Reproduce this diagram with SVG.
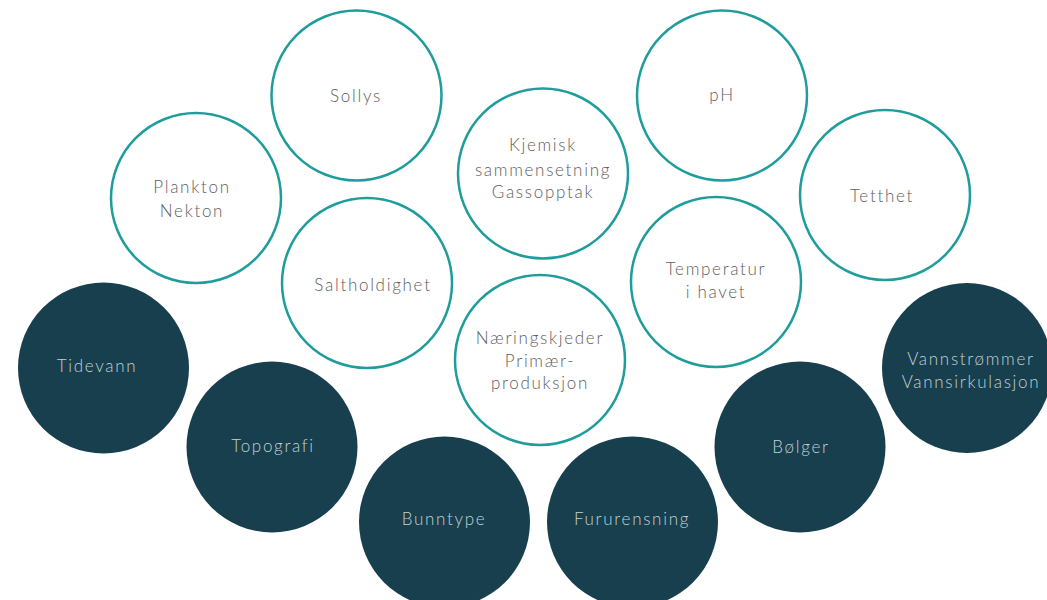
<svg xmlns="http://www.w3.org/2000/svg" width="1047" height="600" viewBox="0 0 1047 600">
<style>
.o circle{fill:#fff;stroke:#1f9c9c;stroke-width:2.5}
.d circle{fill:#173f4e}
text{font-family:"Lato","Open Sans",sans-serif;font-size:17px;font-weight:300;letter-spacing:1.7px;text-anchor:middle}
.o text{fill:#5e5e5e}
.d text{fill:#c3d1d4}
</style>
<rect width="1047" height="600" fill="#fff"/>
<g id="connectors"/>
<g id="sollys" class="o"><circle cx="356.5" cy="95.5" r="85"/><text x="356" y="102">Sollys</text></g>
<g id="ph" class="o"><circle cx="722" cy="95.5" r="85"/><text x="722" y="101">pH</text></g>
<g id="kjemisk" class="o"><circle cx="543" cy="173.5" r="85"/><text x="543" y="151">Kjemisk</text><text x="543" y="176">sammensetning</text><text x="543" y="198">Gassopptak</text></g>
<g id="plankton" class="o"><circle cx="196" cy="198" r="85"/><text x="192" y="193">Plankton</text><text x="192" y="217">Nekton</text></g>
<g id="tetthet" class="o"><circle cx="885" cy="195" r="85"/><text x="882" y="202">Tetthet</text></g>
<g id="saltholdighet" class="o"><circle cx="367" cy="283" r="85"/><text x="373" y="291">Saltholdighet</text></g>
<g id="temperatur" class="o"><circle cx="716" cy="282" r="85"/><text x="716" y="275">Temperatur</text><text x="716" y="298">i havet</text></g>
<g id="naeringskjeder" class="o"><circle cx="540" cy="360" r="85"/><text x="540" y="344">Næringskjeder</text><text x="540" y="367">Primær-</text><text x="540" y="389">produksjon</text></g>
<g id="tidevann" class="d"><circle cx="103.5" cy="368" r="85.5"/><text x="97" y="372">Tidevann</text></g>
<g id="topografi" class="d"><circle cx="272" cy="447" r="85.5"/><text x="273" y="452">Topografi</text></g>
<g id="bunntype" class="d"><circle cx="444.5" cy="522" r="85.5"/><text x="444" y="525">Bunntype</text></g>
<g id="fururensning" class="d"><circle cx="632.5" cy="522" r="85.5"/><text x="632" y="525">Fururensning</text></g>
<g id="bolger" class="d"><circle cx="800" cy="447" r="85.5"/><text x="801" y="453">Bølger</text></g>
<g id="vannstrommer" class="d"><circle cx="967" cy="368" r="85"/><text x="971" y="365">Vannstrømmer</text><text x="971" y="388">Vannsirkulasjon</text></g>
</svg>
